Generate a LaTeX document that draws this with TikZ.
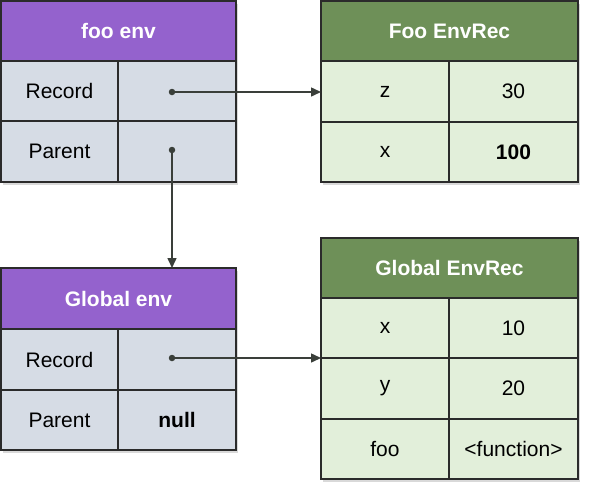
\documentclass[tikz,border=0pt]{standalone}
\usepackage{fontspec}
\setmainfont{Liberation Sans}
\usetikzlibrary{shadows,arrows.meta}
\definecolor{purp}{HTML}{9462CD}
\definecolor{grn}{HTML}{6E9058}
\definecolor{lgrn}{HTML}{E2EFDA}
\definecolor{lblue}{HTML}{D6DCE5}
\definecolor{edgec}{HTML}{2B2B2B}
\definecolor{wire}{HTML}{3A3F3A}
\begin{document}
\begin{tikzpicture}[x=1pt,y=-1pt,
  font=\fontsize{21}{25}\selectfont,
  cell/.style={draw=edgec, line width=1.2pt, inner sep=0pt, outer sep=0pt,
    anchor=north west, align=center},
  bluecell/.style={cell, fill=lblue},
  greencell/.style={cell, fill=lgrn},
  purphead/.style={cell, fill=purp, text=white, font=\fontsize{21}{25}\selectfont\bfseries},
  grnhead/.style={cell, fill=grn, text=white, font=\fontsize{21}{25}\selectfont\bfseries},
  shadowbox/.style={anchor=north west, inner sep=0pt, outer sep=0pt, fill=white,
    drop shadow={opacity=0.3, shadow xshift=2pt, shadow yshift=-3pt}},
  wireline/.style={draw=wire, line width=1.5pt, -{Triangle[length=10pt,width=9pt]}},
  dot/.style={fill=wire, circle, inner sep=0pt, minimum size=6.5pt}
]
\useasboundingbox (0,0) rectangle (590,491);

% foo env
\node[shadowbox, minimum width=235pt, minimum height=181pt] (fooBox) at (1,1) {};
\node[purphead, minimum width=235pt, minimum height=60pt] (fooHead) at (1,1) {foo env};
\node[bluecell, minimum width=117pt, minimum height=60pt] (fooRecK) at (1,61) {Record};
\node[bluecell, minimum width=118pt, minimum height=60pt] (fooRecV) at (118,61) {};
\node[bluecell, minimum width=117pt, minimum height=61pt] (fooParK) at (1,121) {Parent};
\node[bluecell, minimum width=118pt, minimum height=61pt] (fooParV) at (118,121) {};

% Global env
\node[shadowbox, minimum width=235pt, minimum height=182pt] (globBox) at (1,268) {};
\node[purphead, minimum width=235pt, minimum height=61pt] (globHead) at (1,268) {Global env};
\node[bluecell, minimum width=117pt, minimum height=61pt] (globRecK) at (1,329) {Record};
\node[bluecell, minimum width=118pt, minimum height=61pt] (globRecV) at (118,329) {};
\node[bluecell, minimum width=117pt, minimum height=60pt] (globParK) at (1,390) {Parent};
\node[bluecell, minimum width=118pt, minimum height=60pt, font=\fontsize{21}{25}\selectfont\bfseries] (globParV) at (118,390) {null};

% Foo EnvRec
\node[shadowbox, minimum width=257pt, minimum height=181pt] (frBox) at (321,1) {};
\node[grnhead, minimum width=257pt, minimum height=60pt] (frHead) at (321,1) {Foo EnvRec};
\node[greencell, minimum width=128pt, minimum height=61pt] (frZK) at (321,61) {z};
\node[greencell, minimum width=129pt, minimum height=61pt] (frZV) at (449,61) {30};
\node[greencell, minimum width=128pt, minimum height=60pt] (frXK) at (321,122) {x};
\node[greencell, minimum width=129pt, minimum height=60pt, font=\fontsize{21}{25}\selectfont\bfseries] (frXV) at (449,122) {100};

% Global EnvRec
\node[shadowbox, minimum width=257pt, minimum height=241pt] (grBox) at (321,238) {};
\node[grnhead, minimum width=257pt, minimum height=60pt] (grHead) at (321,238) {Global EnvRec};
\node[greencell, minimum width=128pt, minimum height=60pt] (grXK) at (321,298) {x};
\node[greencell, minimum width=129pt, minimum height=60pt] (grXV) at (449,298) {10};
\node[greencell, minimum width=128pt, minimum height=61pt] (grYK) at (321,358) {y};
\node[greencell, minimum width=129pt, minimum height=61pt] (grYV) at (449,358) {20};
\node[greencell, minimum width=128pt, minimum height=60pt] (grFK) at (321,419) {foo};
\node[greencell, minimum width=129pt, minimum height=60pt] (grFV) at (449,419) {<function>};

% pointers
\node[dot] (dR) at (172,92) {};
\node[dot] (dP) at (172,150) {};
\node[dot] (dG) at (172,358) {};
\draw[wireline] (dR.center) -- (frZK.west |- dR.center);
\draw[wireline] (dP.center) -- (dP.center |- globHead.north);
\draw[wireline] (dG.center) -- (grXK.south west |- dG.center);
\end{tikzpicture}
\end{document}
